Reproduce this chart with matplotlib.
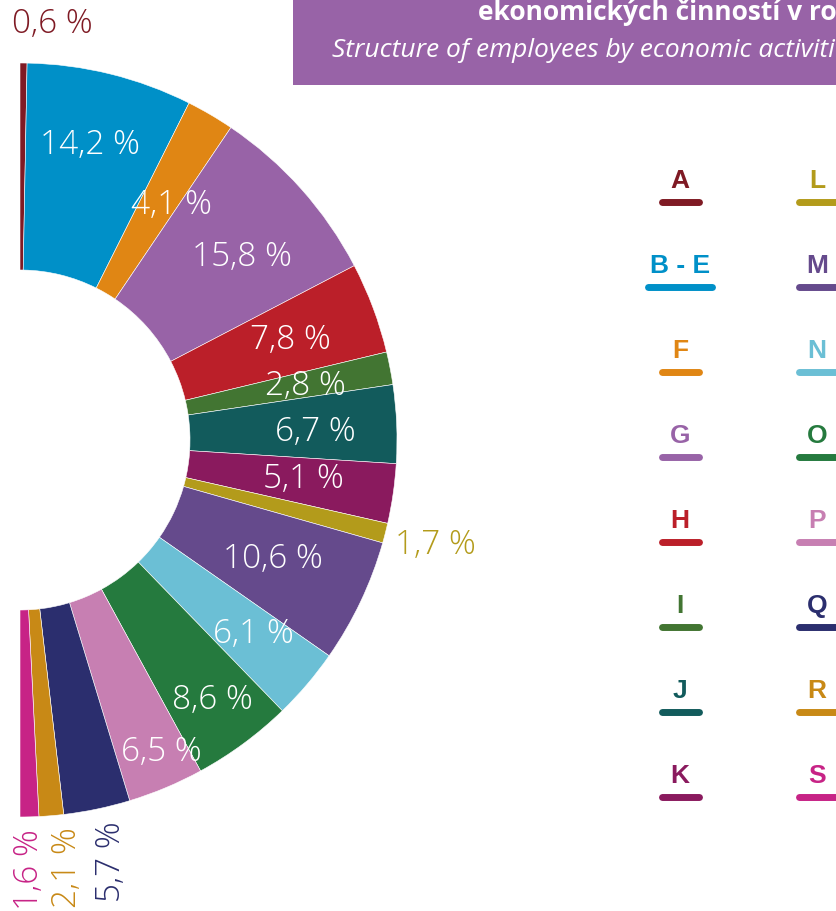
import matplotlib.pyplot as plt
from matplotlib.patches import Rectangle
import numpy as np

# ---data---
codes = ['A', 'B - E', 'F', 'G', 'H', 'I', 'J', 'K', 'L', 'M', 'N', 'O', 'P', 'Q', 'R', 'S']
shares = [0.6, 14.2, 4.1, 15.8, 7.8, 2.8, 6.7, 5.1, 1.7, 10.6, 6.1, 8.6, 6.5, 5.7, 2.1, 1.6]
labels = ['0,6 %', '14,2 %', '4,1 %', '15,8 %', '7,8 %', '2,8 %', '6,7 %', '5,1 %', '1,7 %',
          '10,6 %', '6,1 %', '8,6 %', '6,5 %', '5,7 %', '2,1 %', '1,6 %']
colors = ['#7f1a24', '#0090c8', '#e08614', '#9863a7', '#bb1f29', '#427532', '#125b5c', '#8a1a5e',
          '#b39b1b', '#654a8c', '#6bbfd5', '#257a3e', '#c77fb2', '#2b2e6e', '#c88916', '#c72386']

title_cz = 'ekonomických činností v roce 2019'
title_en = 'Structure of employees by economic activities in 2019'

LIGHT = ['Open Sans', 'DejaVu Sans']

fig = plt.figure(figsize=(8.36, 9.11), dpi=100)
ax = fig.add_axes([0, 0, 1, 1])

# 1 px = 1 data unit, y goes up
H = 911
cx, cy = 20, H - 440
R_out, R_in = 377, 170

# half donut: the data fill 180 deg, a hidden dummy wedge takes the other half
wedges, _ = ax.pie(shares + [100], colors=colors + ['none'], startangle=90, counterclock=False,
                   radius=R_out, center=(cx, cy),
                   wedgeprops=dict(width=R_out - R_in, edgecolor='white', linewidth=0.4))
wedges[-1].set_visible(False)

# ---labels inside the ring--- (radius, angle shift in deg)
inside = {1: (305, 0.5), 2: (281, -2.4), 3: (289, -2), 4: (289, 0), 5: (291, 0), 6: (296, -0.5),
          7: (286, 0.8), 9: (279, 0.5), 10: (302, 0.9), 11: (322, 0.4), 12: (341, 1.8)}
cum = np.cumsum(shares) - np.array(shares) / 2
for i, (r, da) in inside.items():
    ang = np.deg2rad(90 - cum[i] * 1.8 + da)
    ax.text(cx + r * np.cos(ang), cy + r * np.sin(ang) - 2, labels[i], color='white',
            fontsize=24, fontweight='light', family=LIGHT, ha='center', va='center')

# ---labels outside---
ax.text(52, H - 24, labels[0], color=colors[0], fontsize=24, fontweight='light', family=LIGHT,
        ha='center', va='center')
ax.text(435, H - 545, labels[8], color=colors[8], fontsize=24, fontweight='light', family=LIGHT,
        ha='center', va='center')
for i, x, y in [(15, 29, 870), (14, 67, 868), (13, 111, 862)]:
    ax.text(x, H - y, labels[i], color=colors[i], fontsize=24, fontweight='light', family=LIGHT,
            rotation=90, ha='center', va='center')

# ---title box---
ax.add_patch(Rectangle((293, H - 85), 600, 100, color='#9863a7', lw=0))
ax.text(478, H - 20, title_cz, color='white', fontsize=19, fontweight='bold',
        family=['Open Sans', 'DejaVu Sans'], ha='left', va='baseline')
ax.text(332, H - 57, title_en, color='white', fontsize=19, style='italic',
        family=['Open Sans', 'DejaVu Sans'], ha='left', va='baseline')

# ---legend---
for i, code in enumerate(codes):
    col = 0 if i < 8 else 1
    row = i if i < 8 else i - 8
    x = 680 if col == 0 else 817
    ly = 202 + row * 85
    half = 32 if code == 'B - E' else 18.5
    ax.plot([x - half, x + half], [H - ly, H - ly], color=colors[i], lw=5, solid_capstyle='round')
    ax.text(x, H - ly + 21, code, color=colors[i], fontsize=19, fontweight='bold',
            family=['Liberation Sans', 'DejaVu Sans'], ha='center', va='center')

ax.set_xlim(0, 836)
ax.set_ylim(0, H)
ax.set_aspect('equal')
ax.axis('off')

fig.savefig('out.png', dpi=100)
